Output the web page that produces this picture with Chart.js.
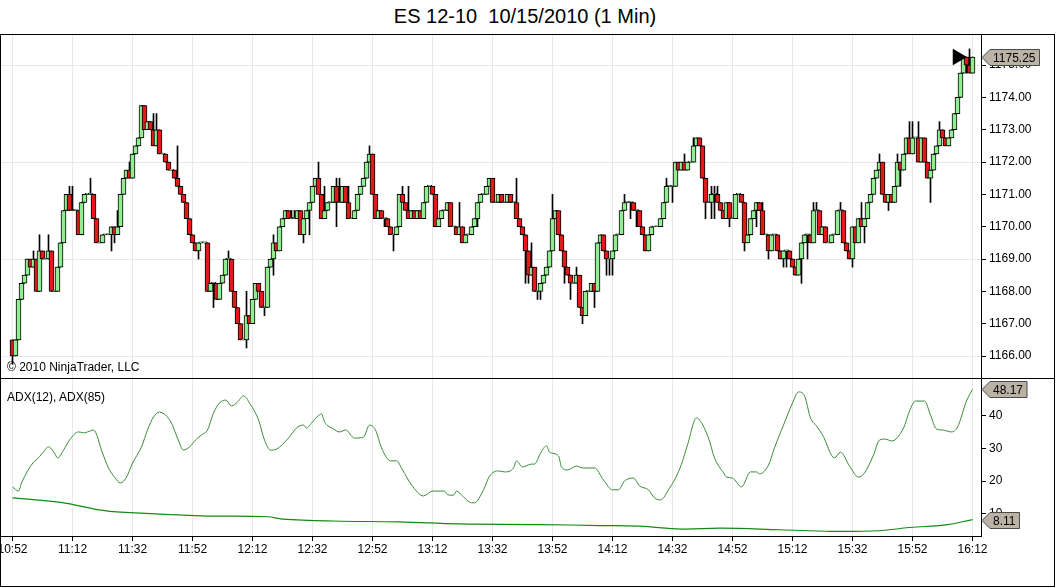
<!DOCTYPE html>
<html>
<head>
<meta charset="utf-8">
<title>ES 12-10 10/15/2010 (1 Min)</title>
<script src="https://cdn.jsdelivr.net/npm/chart.js@4.4.0/dist/chart.umd.min.js"></script>
<style>
  body { margin: 0; width: 1056px; height: 588px; overflow: hidden; position: relative; background: #fff;
         font-family: "Liberation Sans", Arial, sans-serif; color: #000; }
  #title { position: absolute; left: 0; top: 5px; width: 1050px; text-align: center; font-size: 20px; white-space: pre; }
  #frame { position: absolute; left: 0; top: 34px; width: 1055px; height: 553px; border: 1px solid #000; box-sizing: border-box; }
  #divider { position: absolute; left: 0; top: 378px; width: 1055px; height: 1px; background: #000; }
  canvas { position: absolute; left: 1px; }
  #priceChart { top: 35px; }
  #adxChart { top: 379px; }
  .note { position: absolute; left: 7px; font-size: 12px; white-space: pre; }
</style>
</head>
<body>
<div id="title">ES 12-10  10/15/2010 (1 Min)</div>
<div id="frame"></div>
<canvas id="priceChart" width="1053" height="343"></canvas>
<canvas id="adxChart" width="1053" height="207"></canvas>
<div id="divider"></div>
<div class="note" style="top:360px">© 2010 NinjaTrader, LLC</div>
<div class="note" style="top:390px">ADX(12), ADX(85)</div>
<script>
// x axis tick labels, one every 20 bars (1 bar = 1 minute, first bar 10:52)
const timeLabels = ['10:52', '11:12', '11:32', '11:52', '12:12', '12:32', '12:52', '13:12', '13:32',
  '13:52', '14:12', '14:32', '14:52', '15:12', '15:32', '15:52', '16:12'];

// closing price of every 1 minute bar (open = previous close)
const firstOpen = 1166.5;
const closes = [
  1166.0, 1166.5, 1167.75, 1168.25, 1168.5, 1169.0, 1168.75, 1169.0, 1168.0, 1169.25,
  1169.0, 1169.0, 1169.25, 1168.0, 1168.0, 1168.75, 1169.5, 1170.5, 1171.0, 1170.5,
  1170.5, 1170.5, 1169.75, 1170.75, 1171.0, 1171.0, 1171.0, 1170.25, 1169.5, 1169.5,
  1169.75, 1169.75, 1169.75, 1170.0, 1169.75, 1170.0, 1171.0, 1171.5, 1171.75, 1171.5,
  1172.25, 1172.5, 1172.75, 1173.75, 1173.0, 1173.25, 1173.0, 1172.5, 1173.0, 1172.25,
  1172.25, 1172.0, 1171.75, 1171.75, 1171.5, 1171.25, 1171.0, 1170.75, 1170.25, 1169.75,
  1169.5, 1169.25, 1169.5, 1169.5, 1169.5, 1168.0, 1168.25, 1168.25, 1167.75, 1168.25,
  1168.5, 1169.0, 1169.0, 1168.0, 1167.5, 1167.0, 1166.5, 1166.5, 1167.25, 1167.0,
  1167.75, 1168.25, 1168.0, 1167.5, 1167.5, 1168.75, 1169.0, 1169.5, 1169.25, 1170.0,
  1170.25, 1170.5, 1170.25, 1170.25, 1170.25, 1170.5, 1169.75, 1170.25, 1170.5, 1170.75,
  1171.25, 1171.5, 1171.0, 1170.25, 1170.5, 1170.75, 1170.75, 1171.25, 1170.75, 1170.75,
  1171.25, 1170.75, 1170.25, 1170.25, 1170.5, 1171.0, 1171.25, 1171.5, 1172.0, 1172.25,
  1171.0, 1170.25, 1170.5, 1170.25, 1170.25, 1170.0, 1169.75, 1169.75, 1170.0, 1171.0,
  1170.75, 1170.5, 1170.25, 1170.5, 1170.25, 1170.5, 1170.25, 1170.75, 1171.25, 1171.25,
  1171.0, 1170.0, 1170.25, 1170.5, 1170.5, 1170.75, 1170.0, 1170.0, 1169.75, 1170.0,
  1169.5, 1169.75, 1169.75, 1170.0, 1170.25, 1170.75, 1171.0, 1171.0, 1171.25, 1171.5,
  1170.75, 1170.75, 1171.0, 1170.75, 1170.75, 1171.0, 1170.75, 1170.75, 1170.25, 1170.0,
  1169.75, 1169.25, 1168.5, 1168.75, 1168.0, 1168.0, 1168.25, 1168.5, 1168.75, 1169.25,
  1170.25, 1170.5, 1169.75, 1169.25, 1168.75, 1168.5, 1168.25, 1168.25, 1168.5, 1167.5,
  1167.25, 1168.0, 1168.0, 1168.25, 1168.0, 1169.5, 1169.75, 1169.25, 1169.0, 1169.0,
  1169.25, 1169.75, 1169.75, 1170.5, 1170.75, 1170.75, 1170.75, 1170.5, 1170.5, 1170.0,
  1169.75, 1169.25, 1169.75, 1170.0, 1170.0, 1170.0, 1170.25, 1170.75, 1171.25, 1171.25,
  1171.25, 1172.0, 1171.75, 1172.0, 1171.75, 1172.0, 1172.0, 1172.5, 1172.75, 1172.5,
  1171.5, 1170.75, 1170.75, 1171.0, 1171.0, 1170.75, 1170.5, 1170.25, 1170.75, 1170.25,
  1170.25, 1171.0, 1171.0, 1170.75, 1169.5, 1169.75, 1170.25, 1170.5, 1170.75, 1170.5,
  1169.75, 1169.75, 1169.25, 1169.75, 1169.75, 1169.25, 1169.0, 1169.25, 1169.25, 1169.0,
  1168.75, 1168.5, 1169.0, 1169.5, 1169.75, 1169.75, 1169.5, 1170.5, 1170.5, 1169.75,
  1170.0, 1169.5, 1169.5, 1169.75, 1169.75, 1170.5, 1170.5, 1169.5, 1169.25, 1169.0,
  1170.0, 1169.5, 1170.25, 1170.0, 1170.25, 1170.75, 1171.0, 1171.5, 1171.75, 1172.0,
  1171.0, 1170.75, 1171.0, 1170.75, 1171.25, 1172.0, 1171.75, 1172.25, 1172.75, 1172.25,
  1172.75, 1172.75, 1172.0, 1172.75, 1172.0, 1171.5, 1171.75, 1172.25, 1172.5, 1173.0,
  1172.75, 1172.5, 1172.75, 1173.0, 1173.5, 1174.0, 1174.75, 1175.25, 1175.0, 1174.75, 1175.25
];

// wicks that stick out of the bodies: [bar, price]
const upperWicks = [[7, 1169.25], [9, 1169.75], [12, 1169.75], [19, 1171.25], [20, 1171.25], [26, 1171.5],
  [35, 1170.5], [39, 1172.0], [47, 1173.5], [48, 1173.5], [55, 1172.5], [72, 1169.25], [78, 1168.0],
  [87, 1169.75], [91, 1170.5], [93, 1170.5], [94, 1170.5], [96, 1170.5], [102, 1172.0], [104, 1171.25],
  [108, 1171.5], [109, 1171.5], [112, 1171.25], [119, 1172.5], [130, 1171.25], [132, 1171.25],
  [149, 1170.75], [168, 1171.5], [173, 1169.5], [180, 1171.0], [188, 1168.75], [204, 1171.0],
  [218, 1171.5], [224, 1172.25], [227, 1172.75], [233, 1171.25], [234, 1171.25], [235, 1171.25],
  [250, 1170.75], [267, 1170.75], [268, 1170.75], [276, 1170.75], [283, 1170.75], [289, 1172.25],
  [295, 1172.25], [299, 1173.25], [300, 1173.25], [302, 1173.25], [309, 1173.25], [319, 1175.5]];
const lowerWicks = [[0, 1165.75], [33, 1169.25], [34, 1169.5], [62, 1169.0], [67, 1167.5], [78, 1166.25],
  [84, 1167.25], [87, 1168.5], [97, 1169.5], [99, 1169.75], [108, 1170.0], [124, 1170.0], [127, 1169.25],
  [155, 1170.0], [171, 1168.25], [172, 1168.25], [175, 1167.75], [176, 1167.75], [184, 1168.25],
  [186, 1167.75], [190, 1167.0], [194, 1167.5], [198, 1168.5], [199, 1168.5], [200, 1168.5],
  [206, 1170.25], [208, 1170.0], [220, 1170.75], [231, 1170.25], [233, 1170.25], [234, 1170.25],
  [239, 1170.0], [244, 1169.25], [248, 1170.0], [252, 1169.0], [257, 1168.75], [258, 1168.75],
  [263, 1168.25], [265, 1169.0], [280, 1168.75], [284, 1169.5], [292, 1170.5], [296, 1171.25],
  [306, 1170.75], [318, 1174.75]];

// black arrow marker near the last bars
const markerBar = [315];
const markerPrice = [1175.25];

// ADX(12), read at these bars
const adx12Bars = [0, 2, 3, 7, 8, 10, 12, 14, 15, 17, 19, 22, 24, 25, 27, 30, 32, 34, 36, 38,
  40, 43, 45, 47, 49, 51, 53, 55, 57, 59, 61, 63, 65, 67, 69, 71, 73, 75, 77, 79,
  82, 84, 86, 88, 92, 95, 97, 98, 100, 103, 104, 107, 109, 111, 114, 117, 119, 121, 123, 126,
  128, 130, 133, 137, 140, 144, 145, 147, 148, 150, 153, 154, 157, 159, 162, 164, 167, 168, 170, 173,
  174, 176, 178, 179, 182, 183, 185, 188, 190, 194, 197, 200, 202, 204, 207, 209, 212, 214, 216, 219,
  221, 223, 225, 228, 229, 232, 234, 237, 238, 240, 243, 246, 248, 249, 252, 254, 257, 260, 262, 264,
  266, 268, 270, 274, 276, 279, 282, 284, 287, 289, 291, 293, 297, 299, 301, 304, 306, 308, 310, 313,
  315, 318, 320];
const adx12Values = [18.2, 16.9, 19.4, 25.8, 26.5, 28.6, 30.5, 28.6, 27.1, 29.5,
  32.6, 35.1, 34.8, 35.1, 35.7, 28.6, 24.0, 21.2, 19.4, 21.2,
  25.5, 30.5, 35.7, 39.7, 41.2, 40.3, 37.8, 33.2, 29.5, 30.5,
  32.6, 34.2, 35.7, 40.9, 44.0, 44.9, 43.1, 44.3, 46.2, 44.0,
  38.8, 32.6, 29.5, 29.8, 33.2, 36.6, 37.2, 36.3, 38.2, 40.6,
  38.2, 36.0, 35.1, 35.7, 33.2, 33.5, 37.2, 35.7, 30.2, 26.2,
  26.2, 23.4, 18.8, 15.4, 16.9, 16.9, 15.8, 15.6, 16.9, 15.4,
  13.3, 13.3, 17.3, 21.5, 23.1, 22.8, 24.0, 26.2, 24.3, 25.2,
  25.2, 28.6, 30.8, 28.9, 27.7, 24.3, 23.4, 24.6, 24.0, 24.0,
  20.3, 17.3, 17.3, 20.0, 20.9, 18.5, 17.3, 14.8, 14.2, 17.8,
  20.9, 25.2, 31.1, 39.4, 38.8, 33.2, 27.1, 22.5, 21.2, 20.9,
  18.2, 22.8, 22.8, 22.2, 24.9, 30.2, 37.2, 44.0, 47.4, 46.2,
  39.4, 36.9, 34.2, 27.1, 28.9, 24.6, 21.2, 22.5, 28.0, 32.6,
  32.9, 32.3, 36.3, 41.5, 44.6, 44.6, 40.3, 36.0, 35.7, 35.1,
  36.6, 44.6, 48.17];

// ADX(85), read at these bars
const adx85Bars = [0, 16, 29, 36, 63, 85, 90, 107, 129, 149, 176, 196, 209, 223, 236, 256, 273, 289, 299, 311, 320];
const adx85Values = [14.8, 13.4, 11.1, 10.4, 9.3, 9.0, 8.3, 7.7, 7.4, 6.8, 6.6, 6.3, 6.1, 5.2, 5.5, 5.0, 4.5, 4.7, 5.7, 6.5, 8.11];

Chart.defaults.font.family = '"Liberation Sans", Arial, sans-serif';
Chart.defaults.font.size = 12;
Chart.defaults.color = '#000';

const upColor = '#90ee90';
const downColor = '#e3191c';
const gridColor = '#e8e8e8';
const xMin = -11.5 / 3, xMax = 968.5 / 3;

const opens = closes.map((c, i) => i === 0 ? firstOpen : closes[i - 1]);
const highs = closes.map((c, i) => Math.max(c, opens[i]));
const lows = closes.map((c, i) => Math.min(c, opens[i]));
upperWicks.forEach(([i, p]) => { highs[i] = Math.max(highs[i], p); });
lowerWicks.forEach(([i, p]) => { lows[i] = Math.min(lows[i], p); });

// last value boxes drawn on the right axis
const lastValuePlugin = {
  id: 'lastValue',
  afterDraw(chart, args, opts) {
    const ctx = chart.ctx;
    const x0 = chart.chartArea.right + 1;
    ctx.save();
    ctx.font = '12px "Liberation Sans", Arial, sans-serif';
    ctx.textBaseline = 'middle';
    opts.items.forEach(item => {
      const y = Math.round(chart.scales.y.getPixelForValue(item.value)) + 0.5;
      const w = ctx.measureText(item.text).width + 7;
      ctx.beginPath();
      ctx.moveTo(x0, y);
      ctx.lineTo(x0 + 8, y - 8);
      ctx.lineTo(x0 + 8 + w, y - 8);
      ctx.lineTo(x0 + 8 + w, y + 8);
      ctx.lineTo(x0 + 8, y + 8);
      ctx.closePath();
      ctx.fillStyle = '#bab3a5';
      ctx.fill();
      ctx.strokeStyle = '#4a4a4a';
      ctx.lineWidth = 1;
      ctx.stroke();
      ctx.fillStyle = '#000';
      ctx.fillText(item.text, x0 + 11, y + 1);
    });
    ctx.restore();
  }
};

function noPadding(scale) {
  scale.paddingLeft = 0;
  scale.paddingRight = 0;
  scale.paddingTop = 0;
  scale.paddingBottom = 0;
}

new Chart(document.getElementById('priceChart'), {
  type: 'bar',
  data: {
    datasets: [
      {
        label: 'Wicks',
        data: closes.map((c, i) => ({ x: i, y: [lows[i], highs[i]] })),
        backgroundColor: '#000',
        barThickness: 1,
        grouped: false,
        order: 3
      },
      {
        label: 'Bodies',
        data: closes.map((c, i) => ({ x: i, y: [opens[i], c] })),
        backgroundColor: closes.map((c, i) => c >= opens[i] ? upColor : downColor),
        borderColor: '#000',
        borderWidth: 1,
        borderSkipped: false,
        barThickness: 5,
        minBarLength: 1,
        grouped: false,
        order: 2
      },
      {
        type: 'scatter',
        label: 'Marker',
        data: markerBar.map((b, i) => ({ x: b, y: markerPrice[i] })),
        pointStyle: 'triangle',
        rotation: 90,
        radius: 9.5,
        backgroundColor: '#000',
        borderWidth: 0,
        order: 1
      }
    ]
  },
  options: {
    responsive: false,
    animation: false,
    events: [],
    layout: { padding: 0, autoPadding: false },
    plugins: {
      legend: { display: false },
      tooltip: { enabled: false },
      lastValue: { items: [{ value: closes[closes.length - 1], text: closes[closes.length - 1].toFixed(2) }] }
    },
    scales: {
      x: {
        type: 'linear',
        min: xMin,
        max: xMax,
        offset: false,
        grid: { color: gridColor, drawTicks: false, offset: false },
        border: { display: false },
        ticks: { display: false, stepSize: 20, includeBounds: false },
        afterFit(scale) { scale.height = 0; noPadding(scale); }
      },
      y: {
        position: 'right',
        min: 1165.32,
        max: 1175.93,
        grid: {
          color: ctx => ((ctx.tick.value - 1166) % 3 === 0 ? gridColor : 'rgba(0,0,0,0)'),
          tickColor: '#000',
          tickLength: 5
        },
        border: { color: '#000' },
        ticks: { stepSize: 1, includeBounds: false, padding: 3, callback: v => v.toFixed(2) },
        afterFit(scale) { scale.width = 73; noPadding(scale); }
      }
    }
  },
  plugins: [lastValuePlugin]
});

new Chart(document.getElementById('adxChart'), {
  type: 'line',
  data: {
    datasets: [
      {
        label: 'ADX(12)',
        data: adx12Bars.map((b, i) => ({ x: b, y: adx12Values[i] })),
        borderColor: '#3a8c3a',
        borderWidth: 1,
        pointRadius: 0,
        cubicInterpolationMode: 'monotone'
      },
      {
        label: 'ADX(85)',
        data: adx85Bars.map((b, i) => ({ x: b, y: adx85Values[i] })),
        borderColor: '#138a13',
        borderWidth: 1.2,
        pointRadius: 0,
        tension: 0.4
      }
    ]
  },
  options: {
    responsive: false,
    animation: false,
    events: [],
    layout: { padding: 0, autoPadding: false },
    plugins: {
      legend: { display: false },
      tooltip: { enabled: false },
      lastValue: {
        items: [
          { value: adx12Values[adx12Values.length - 1], text: adx12Values[adx12Values.length - 1].toFixed(2) },
          { value: adx85Values[adx85Values.length - 1], text: adx85Values[adx85Values.length - 1].toFixed(2) }
        ]
      }
    },
    scales: {
      x: {
        type: 'linear',
        min: xMin,
        max: xMax,
        offset: false,
        grid: { color: gridColor, tickColor: '#000', tickLength: 5, offset: false },
        border: { color: '#000' },
        ticks: {
          stepSize: 20,
          includeBounds: false,
          maxRotation: 0,
          autoSkip: false,
          padding: 1,
          callback: v => timeLabels[Math.round(v / 20)]
        },
        afterFit(scale) { scale.height = 50; noPadding(scale); }
      },
      y: {
        position: 'right',
        min: 3.08,
        max: 51.38,
        grid: { drawOnChartArea: false, tickColor: '#000', tickLength: 5 },
        border: { color: '#000' },
        ticks: { stepSize: 10, includeBounds: false, padding: 3 },
        afterBuildTicks(scale) { scale.ticks = scale.ticks.filter(t => t.value <= 40); },
        afterFit(scale) { scale.width = 73; noPadding(scale); }
      }
    }
  },
  plugins: [lastValuePlugin]
});
</script>
</body>
</html>
